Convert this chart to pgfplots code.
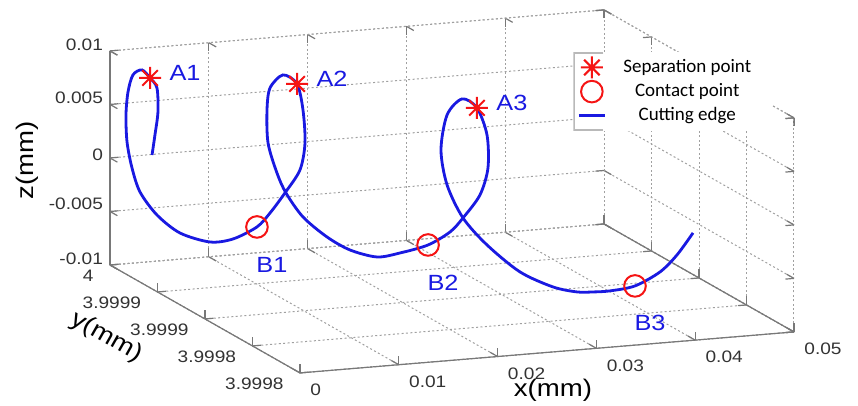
\documentclass[border=0pt]{standalone}
\usepackage{pgfplots}
\pgfplotsset{compat=1.18}
\usepackage{pgfplotstable}
\usepackage{fontspec}
\setmainfont{Liberation Sans}[FakeStretch=1.15]
\newfontfamily\calibri{Carlito}
\definecolor{mblue}{RGB}{25,25,225}
\definecolor{mred}{RGB}{245,20,20}
\definecolor{axgray}{RGB}{120,120,120}
\definecolor{gridgray}{RGB}{160,160,160}
\pgfdeclareplotmark{mast}{%
  \pgfpathmoveto{\pgfqpoint{0pt}{\pgfplotmarksize}}\pgfpathlineto{\pgfqpoint{0pt}{-\pgfplotmarksize}}%
  \pgfpathmoveto{\pgfqpoint{\pgfplotmarksize}{0pt}}\pgfpathlineto{\pgfqpoint{-\pgfplotmarksize}{0pt}}%
  \pgfpathmoveto{\pgfqpoint{0.7071\pgfplotmarksize}{0.7071\pgfplotmarksize}}\pgfpathlineto{\pgfqpoint{-0.7071\pgfplotmarksize}{-0.7071\pgfplotmarksize}}%
  \pgfpathmoveto{\pgfqpoint{-0.7071\pgfplotmarksize}{0.7071\pgfplotmarksize}}\pgfpathlineto{\pgfqpoint{0.7071\pgfplotmarksize}{-0.7071\pgfplotmarksize}}%
  \pgfusepathqstroke}
\pgfplotstableread{
x y z
0.004053 3.9999979 0.000073
0.004329 3.9999977 0.001936
0.004604 3.9999974 0.004080
0.004512 3.9999975 0.006325
0.003869 3.9999981 0.007275
0.003122 3.9999988 0.008047
0.002266 3.9999994 0.007616
0.001784 3.9999996 0.006052
0.001589 3.9999997 0.003913
0.001686 3.9999996 0.001384
0.002170 3.9999994 -0.001071
0.002933 3.9999989 -0.003348
0.004512 3.9999975 -0.005544
0.006567 3.9999946 -0.007241
0.009121 3.9999896 -0.008025
0.011000 3.9999849 -0.007650
0.012884 3.9999793 -0.006389
0.013880 3.9999759 -0.004989
0.015005 3.9999719 -0.003001
0.016112 3.9999676 -0.000719
0.016477 3.9999661 0.001852
0.016331 3.9999667 0.004917
0.015892 3.9999684 0.007291
0.014856 3.9999724 0.008011
0.013880 3.9999759 0.006694
0.013651 3.9999767 0.004615
0.013727 3.9999764 0.001539
0.014408 3.9999741 -0.001197
0.015080 3.9999716 -0.002992
0.016331 3.9999667 -0.005083
0.018049 3.9999593 -0.006711
0.019650 3.9999517 -0.007668
0.021481 3.9999423 -0.007988
0.022997 3.9999339 -0.007305
0.024797 3.9999231 -0.006152
0.026180 3.9999143 -0.004598
0.026980 3.9999090 -0.003083
0.028016 3.9999019 -0.000654
0.028498 3.9998985 0.002005
0.028438 3.9998989 0.005072
0.027834 3.9999032 0.007427
0.026918 3.9999094 0.008022
0.025993 3.9999155 0.006289
0.025618 3.9999180 0.002924
0.025993 3.9999155 -0.000253
0.026980 3.9999090 -0.003083
0.028438 3.9998989 -0.005208
0.030396 3.9998845 -0.007155
0.032300 3.9998696 -0.007950
0.033655 3.9998584 -0.007957
0.034545 3.9998508 -0.007643
0.035479 3.9998427 -0.007208
0.036832 3.9998304 -0.006227
0.038163 3.9998179 -0.004391
0.039055 3.9998093 -0.002436
0.039886 3.9998011 -0.000030
}\edgetable
\pgfplotstableread{
x y z lab
0.012884 3.9999793 -0.006389 B1
0.024797 3.9999231 -0.006152 B2
0.036832 3.9998304 -0.006227 B3
}\contacttable
\pgfplotstableread{
x y z lab
0.003869 3.9999981 0.007275 A1
0.015892 3.9999684 0.007291 A2
0.027834 3.9999032 0.007427 A3
}\septable
\begin{document}
\begin{tikzpicture}
\begin{axis}[
  view={-20.92}{12.54},
  plot box ratio={1}{1.006}{0.4145},
  scale only axis, scale mode=stretch to fill,
  width=342pt, height=181.5pt,
  xmin=0, xmax=0.05, ymin=3.9998, ymax=4, zmin=-0.01, zmax=0.01,
  y coord trafo/.code={\edef\pgfmathresult{\fpeval{(#1-3.9998)*10000}}},
  xtick={0,0.01,0.02,0.03,0.04,0.05}, xticklabels={0,0.01,0.02,0.03,0.04,0.05},
  ytick={3.9998,3.99985,3.9999,3.99995,4}, yticklabels={3.9998,3.9998,3.9999,3.9999,4},
  ztick={-0.01,-0.005,0,0.005,0.01}, zticklabels={-0.01,-0.005,0,0.005,0.01},
  scaled ticks=false,
  grid=major, major grid style={gridgray, dash pattern=on 1pt off 1.2pt, line width=0.5pt},
  axis line style={gridgray, dash pattern=on 1pt off 1.2pt, line width=0.5pt},
  tick style={axgray, line width=0.6pt, solid},
  ticklabel style={font=\fontsize{8.3}{10}\selectfont, text=black!80},
  xticklabel style={anchor=west, inner sep=0pt, xshift=5pt, yshift=-8.5pt},
  yticklabel style={anchor=east, inner sep=0pt, xshift=-8pt, yshift=-5.5pt},
  clip=false,
  legend style={at={(0.677,0.884)}, anchor=north west, draw=none, fill=white,
    font=\calibri\fontsize{9.5}{11}\selectfont, inner xsep=2pt, inner ysep=1.5pt, row sep=0pt,
    path picture={\draw[gray!55, line width=1.6pt] ([xshift=15pt]path picture bounding box.north west) -- (path picture bounding box.north west) -- (path picture bounding box.south west) -- ([xshift=15pt]path picture bounding box.south west);}},
  legend cell align=center,
  legend image code/.code={\draw[mark repeat=2,mark phase=2,#1] plot coordinates {(0pt,0pt) (6.5pt,0pt) (13pt,0pt)};},
]
\coordinate (O) at (rel axis cs:0,1,0);
\draw[axgray, line width=0.6pt] (rel axis cs:0,1,0) -- (rel axis cs:0,1,1);
\draw[axgray, line width=0.6pt] (rel axis cs:0,0,0) -- (rel axis cs:0,1,0);
\draw[axgray, line width=0.6pt] (rel axis cs:0,0,0) -- (rel axis cs:1,0,0);
\draw[axgray, line width=0.6pt] (rel axis cs:1,0,0) -- (rel axis cs:1,1,0);
\addlegendimage{only marks, mark=mast, mark size=5.5pt, mred, line width=1pt}
\addlegendentry{\makebox[77pt][c]{Separation point}}
\addlegendimage{only marks, mark=o, mark size=5.4pt, mred, line width=1pt}
\addlegendentry{\makebox[77pt][c]{Contact point}}
\addlegendimage{mblue, line width=1.4pt}
\addlegendentry{\makebox[77pt][c]{Cutting edge}}
\addplot3[mblue, line width=1.4pt, smooth, forget plot] table[x=x, y=y, z=z] {\edgetable};
\addplot3[only marks, mark=o, mark size=5.4pt, mred, line width=1pt, forget plot,
  point meta=explicit symbolic, nodes near coords,
  nodes near coords style={anchor=center, inner sep=0pt, xshift=7.5pt, yshift=-18.75pt, text=mblue, font=\fontsize{11}{13}\selectfont}]
  table[x=x, y=y, z=z, meta=lab] {\contacttable};
\addplot3[only marks, mark=mast, mark size=5.5pt, mred, line width=1pt, forget plot,
  point meta=explicit symbolic, nodes near coords,
  nodes near coords style={anchor=center, inner sep=0pt, xshift=17.5pt, yshift=2.5pt, text=mblue, font=\fontsize{11}{13}\selectfont}]
  table[x=x, y=y, z=z, meta=lab] {\septable};
\end{axis}
\node[rotate=90, font=\fontsize{12}{14}\selectfont] at ([shift={(-41.5pt,52.5pt)}]O) {z(mm)};
\node[rotate=-29.6, font=\fontsize{12}{14}\selectfont] at ([shift={(-1.5pt,-36pt)}]O) {y(mm)};
\node[font=\fontsize{12}{14}\selectfont] at ([shift={(221.5pt,-62.5pt)}]O) {x(mm)};
\pgfresetboundingbox
\path[use as bounding box] ([shift={(-55pt,-70.5pt)}]O) rectangle ([shift={(374pt,132.5pt)}]O);
\end{tikzpicture}
\end{document}
